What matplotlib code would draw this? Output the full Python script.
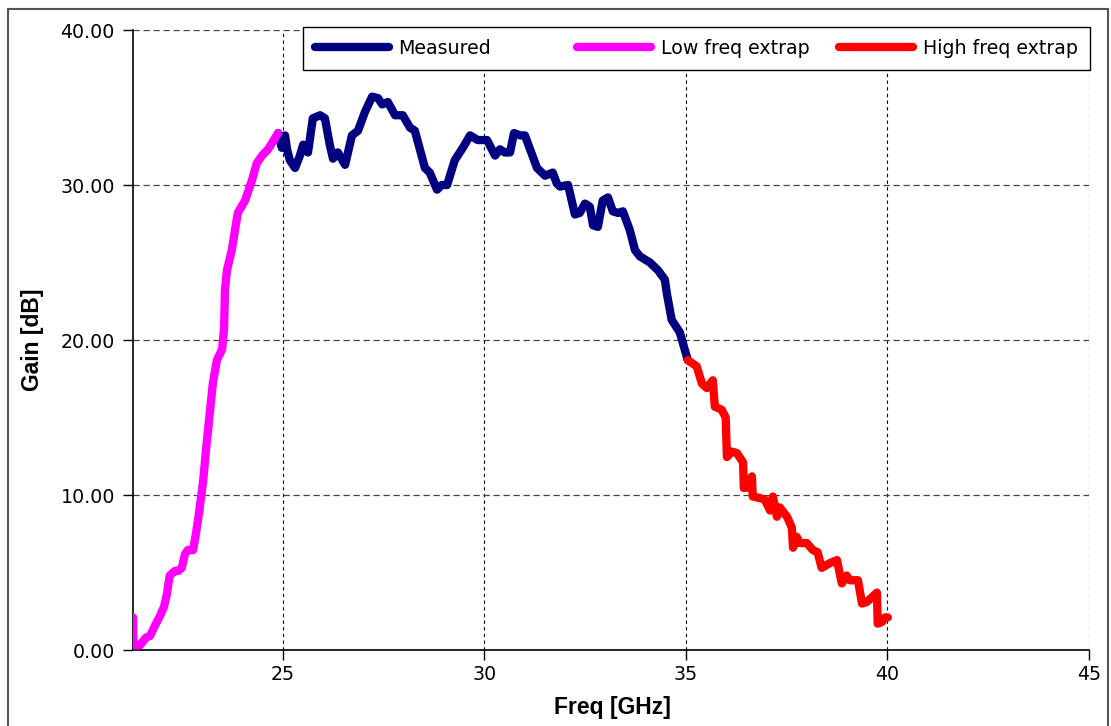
# Gain vs frequency: measured band plus low/high frequency extrapolation
import matplotlib.pyplot as plt
from matplotlib.patches import Rectangle

# Low frequency extrapolation (GHz, dB)
low_f = [21.29, 21.30, 21.46, 21.61, 21.71, 21.84, 21.96, 22.06, 22.13, 22.20, 22.33,
         22.41, 22.50, 22.58, 22.65, 22.78, 22.85, 22.92, 23.03, 23.10, 23.27, 23.37,
         23.50, 23.55, 23.57, 23.62, 23.74, 23.82, 23.89, 24.07, 24.24, 24.36, 24.49,
         24.64, 24.89]
low_g = [2.1, 0.3, 0.3, 0.8, 0.9, 1.6, 2.2, 2.8, 3.6, 4.8, 5.1,
         5.1, 5.3, 6.2, 6.45, 6.45, 7.5, 8.7, 10.9, 12.9, 17.2, 18.7,
         19.4, 20.8, 23.2, 24.5, 25.8, 27.1, 28.2, 29.0, 30.3, 31.4, 31.9,
         32.3, 33.35]

# Measured
meas_f = [24.89, 24.98, 25.06, 25.11, 25.18, 25.31, 25.43, 25.51, 25.63, 25.75, 25.93,
          26.05, 26.17, 26.25, 26.37, 26.55, 26.72, 26.87, 27.04, 27.22, 27.37, 27.47,
          27.61, 27.79, 27.98, 28.16, 28.28, 28.53, 28.65, 28.83, 28.95, 29.08, 29.27,
          29.47, 29.65, 29.84, 30.07, 30.27, 30.39, 30.51, 30.64, 30.74, 30.89, 31.01,
          31.31, 31.51, 31.70, 31.80, 31.88, 32.08, 32.25, 32.37, 32.50, 32.62, 32.70,
          32.82, 32.94, 33.07, 33.19, 33.32, 33.44, 33.61, 33.74, 33.86, 34.11, 34.31,
          34.48, 34.53, 34.65, 34.85, 35.05]
meas_g = [33.35, 32.4, 33.2, 32.3, 31.6, 31.1, 31.9, 32.6, 32.1, 34.3, 34.5,
          34.3, 32.6, 31.7, 32.1, 31.3, 33.2, 33.5, 34.7, 35.7, 35.6, 35.2,
          35.35, 34.5, 34.5, 33.7, 33.5, 31.1, 30.8, 29.7, 30.0, 30.0, 31.6,
          32.4, 33.2, 32.9, 32.9, 31.9, 32.3, 32.1, 32.1, 33.35, 33.2, 33.2,
          31.1, 30.6, 30.8, 30.1, 29.9, 30.0, 28.1, 28.2, 28.8, 28.6, 27.4,
          27.3, 29.0, 29.2, 28.3, 28.2, 28.3, 27.1, 25.8, 25.4, 25.0, 24.5,
          23.9, 23.0, 21.3, 20.5, 18.7]

# High frequency extrapolation
high_f = [35.05, 35.27, 35.40, 35.52, 35.67, 35.72, 35.89, 35.99, 36.02, 36.14, 36.27,
          36.42, 36.44, 36.54, 36.64, 36.66, 36.84, 36.96, 37.09, 37.16, 37.26, 37.33,
          37.51, 37.63, 37.66, 37.75, 37.83, 38.00, 38.15, 38.27, 38.37, 38.57, 38.75,
          38.87, 38.99, 39.07, 39.27, 39.37, 39.49, 39.74, 39.76, 39.86, 39.94, 40.01]
high_g = [18.7, 18.3, 17.2, 16.9, 17.4, 15.7, 15.5, 15.0, 12.45, 12.8, 12.7,
          12.1, 10.45, 10.5, 11.2, 9.9, 9.8, 9.7, 9.0, 9.9, 8.6, 9.2,
          8.6, 7.9, 6.6, 7.3, 6.9, 6.9, 6.45, 6.3, 5.3, 5.6, 5.8,
          4.3, 4.8, 4.5, 4.5, 3.0, 3.1, 3.7, 1.7, 1.8, 2.1, 2.1]

x_ticks = [25, 30, 35, 40, 45]
y_ticks = [0, 10, 20, 30, 40]

fig = plt.figure(figsize=(11.11, 7.26), dpi=100)
ax = fig.add_axes([133 / 1111, 1 - 650 / 726, (1089 - 133) / 1111, 620 / 726])

# figure frame
fig.patches.append(Rectangle((8 / 1111, -0.1), 1100 / 1111, 1.1 - 9 / 726,
                             transform=fig.transFigure, fill=False,
                             edgecolor='#555555', lw=1.5))

kw = dict(lw=6, solid_capstyle='round', solid_joinstyle='round', zorder=3)
l1, = ax.plot(meas_f, meas_g, color='#000080', label='Measured', **kw)
l2, = ax.plot(low_f, low_g, color='#ff00ff', label='Low freq extrap', **kw)
l3, = ax.plot(high_f, high_g, color='#ff0000', label='High freq extrap', **kw)

ax.set_xlim(21.29, 45)
ax.set_ylim(0, 40)
ax.set_xticks(x_ticks)
ax.set_yticks(y_ticks)
ax.set_yticklabels([f"{v:.2f}" for v in y_ticks])

ax.xaxis.grid(True, color='black', linestyle=(0, (3, 3)), lw=0.8, zorder=1)
ax.yaxis.grid(True, color='#444444', linestyle=(0, (5, 3)), lw=0.9, zorder=1)
ax.spines['top'].set_visible(False)
ax.spines['right'].set_visible(False)
ax.spines['left'].set_linewidth(1.2)
ax.spines['bottom'].set_linewidth(1.2)

ax.tick_params(axis='y', length=7, width=1, pad=6, labelsize=13.7)
ax.tick_params(axis='x', length=7, width=1, pad=3.5, labelsize=13.7)

ax.set_xlabel("Freq [GHz]", family='Liberation Sans', fontweight='bold',
              fontsize=16.5, va='center')
ax.set_ylabel("Gain [dB]", family='Liberation Sans', fontweight='bold',
              fontsize=16.5, va='center')
ax.xaxis.set_label_coords(0.502, -0.092)
ax.yaxis.set_label_coords(-0.1056, 0.5)

leg = fig.legend(handles=[l1, l2, l3], ncol=3, mode='expand',
                 loc='upper left', alignment='left',
                 bbox_to_anchor=(303 / 1111, 1 - 69 / 726, (1090 - 303) / 1111, 42 / 726),
                 fontsize=13.7, handlelength=3.9, handletextpad=0.5,
                 fancybox=False, framealpha=1, edgecolor='black',
                 borderpad=0.62, borderaxespad=0)
leg.get_frame().set_linewidth(1.0)
# equal-width columns, like the original legend
leg._legend_handle_box.mode = 'equal'
leg._legend_handle_box.set_width(786)

fig.savefig("out.png", dpi=100)
